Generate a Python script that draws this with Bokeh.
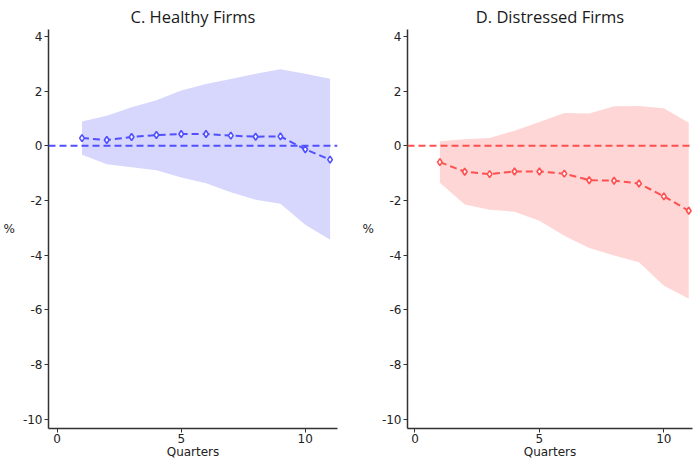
from bokeh.plotting import figure
from bokeh.layouts import row
from bokeh.models import ColumnDataSource, Span, FixedTicker
from bokeh.embed import file_html
from bokeh.resources import INLINE

quarters = [1, 2, 3, 4, 5, 6, 7, 8, 9, 10, 11]

healthy_est = [0.28, 0.21, 0.32, 0.39, 0.43, 0.43, 0.37, 0.33, 0.34, -0.13, -0.51]
healthy_hi = [0.89, 1.10, 1.41, 1.66, 2.02, 2.26, 2.44, 2.63, 2.80, 2.63, 2.45]
healthy_lo = [-0.33, -0.68, -0.79, -0.90, -1.16, -1.37, -1.70, -1.98, -2.12, -2.89, -3.44]

distressed_est = [-0.60, -0.95, -1.04, -0.94, -0.94, -1.02, -1.26, -1.28, -1.38, -1.85, -2.38]
distressed_hi = [0.16, 0.24, 0.28, 0.55, 0.87, 1.20, 1.18, 1.44, 1.45, 1.37, 0.84]
distressed_lo = [-1.35, -2.15, -2.34, -2.41, -2.74, -3.29, -3.74, -4.01, -4.26, -5.12, -5.60]

titles = ["C. Healthy Firms", "D. Distressed Firms"]
x_ticks = [0, 5, 10]
y_ticks = [4, 2, 0, -2, -4, -6, -8, -10]
y_tick_labels = {t: str(t) for t in y_ticks}

FONT = "DejaVu Sans"


def panel(title, est, hi, lo, line_col, band_col, width, bl, br, xr):
    p = figure(width=width, height=461, output_backend="svg", toolbar_location=None,
               x_range=xr, y_range=(-10.34, 4.25),
               min_border_left=bl, min_border_right=br, min_border_top=0, min_border_bottom=33)
    p.title.text = title
    p.title.align = "center"
    p.title.text_font = "Open Sans"
    p.title.text_font_size = "16.5px"
    p.title.text_font_style = "normal"
    p.title.text_color = "#1a1a1a"
    p.title.standoff = 4
    p.title.offset = 0
    p.outline_line_color = None
    p.grid.visible = False
    p.background_fill_color = "white"
    p.border_fill_color = "white"

    src = ColumnDataSource(dict(x=quarters, y=est, hi=hi, lo=lo))
    p.varea(x="x", y1="lo", y2="hi", source=src, fill_color=band_col, fill_alpha=1.0)
    p.add_layout(Span(location=0, dimension="width", line_color=line_col,
                      line_width=2, line_dash="7 4"))
    p.line(x="x", y="y", source=src, line_color=line_col, line_width=2, line_dash="7 4")
    p.scatter(x="x", y="y", source=src, marker="diamond", size=7, fill_color="white",
              line_color=line_col, line_width=1.6)

    p.xaxis.ticker = FixedTicker(ticks=x_ticks)
    p.yaxis.ticker = FixedTicker(ticks=y_ticks)
    p.yaxis.major_label_overrides = y_tick_labels
    p.xaxis.axis_label = "Quarters"
    p.yaxis.axis_label = "%"
    for ax in (p.xaxis[0], p.yaxis[0]):
        ax.axis_label_text_font = FONT
        ax.axis_label_text_font_size = "12px"
        ax.axis_label_text_font_style = "normal"
        ax.axis_label_text_color = "#222222"
        ax.major_label_text_font = FONT
        ax.major_label_text_font_size = "12px"
        ax.major_label_text_color = "#222222"
        ax.axis_line_color = "#333333"
        ax.axis_line_width = 1.5
        ax.major_tick_line_color = "#333333"
        ax.major_tick_out = 4
        ax.major_tick_in = 0
        ax.minor_tick_line_color = None
        ax.axis_label_standoff = 0
        ax.major_label_standoff = 2
    p.xaxis[0].major_label_standoff = 1
    p.xaxis[0].axis_label_standoff = -1
    p.yaxis[0].axis_label_orientation = "horizontal"
    p.yaxis[0].axis_label_standoff = 5
    return p


p1 = panel(titles[0], healthy_est, healthy_hi, healthy_lo, "#5050ff", "#d7d7fd",
           346, 48, 9, (-0.35, 11.3))
p2 = panel(titles[1], distressed_est, distressed_hi, distressed_lo, "#ff5050", "#ffd6d6",
           347, 61, 1, (-0.3, 11.15))

layout = row(p1, p2)
open("out.html", "w").write(file_html(layout, INLINE))
